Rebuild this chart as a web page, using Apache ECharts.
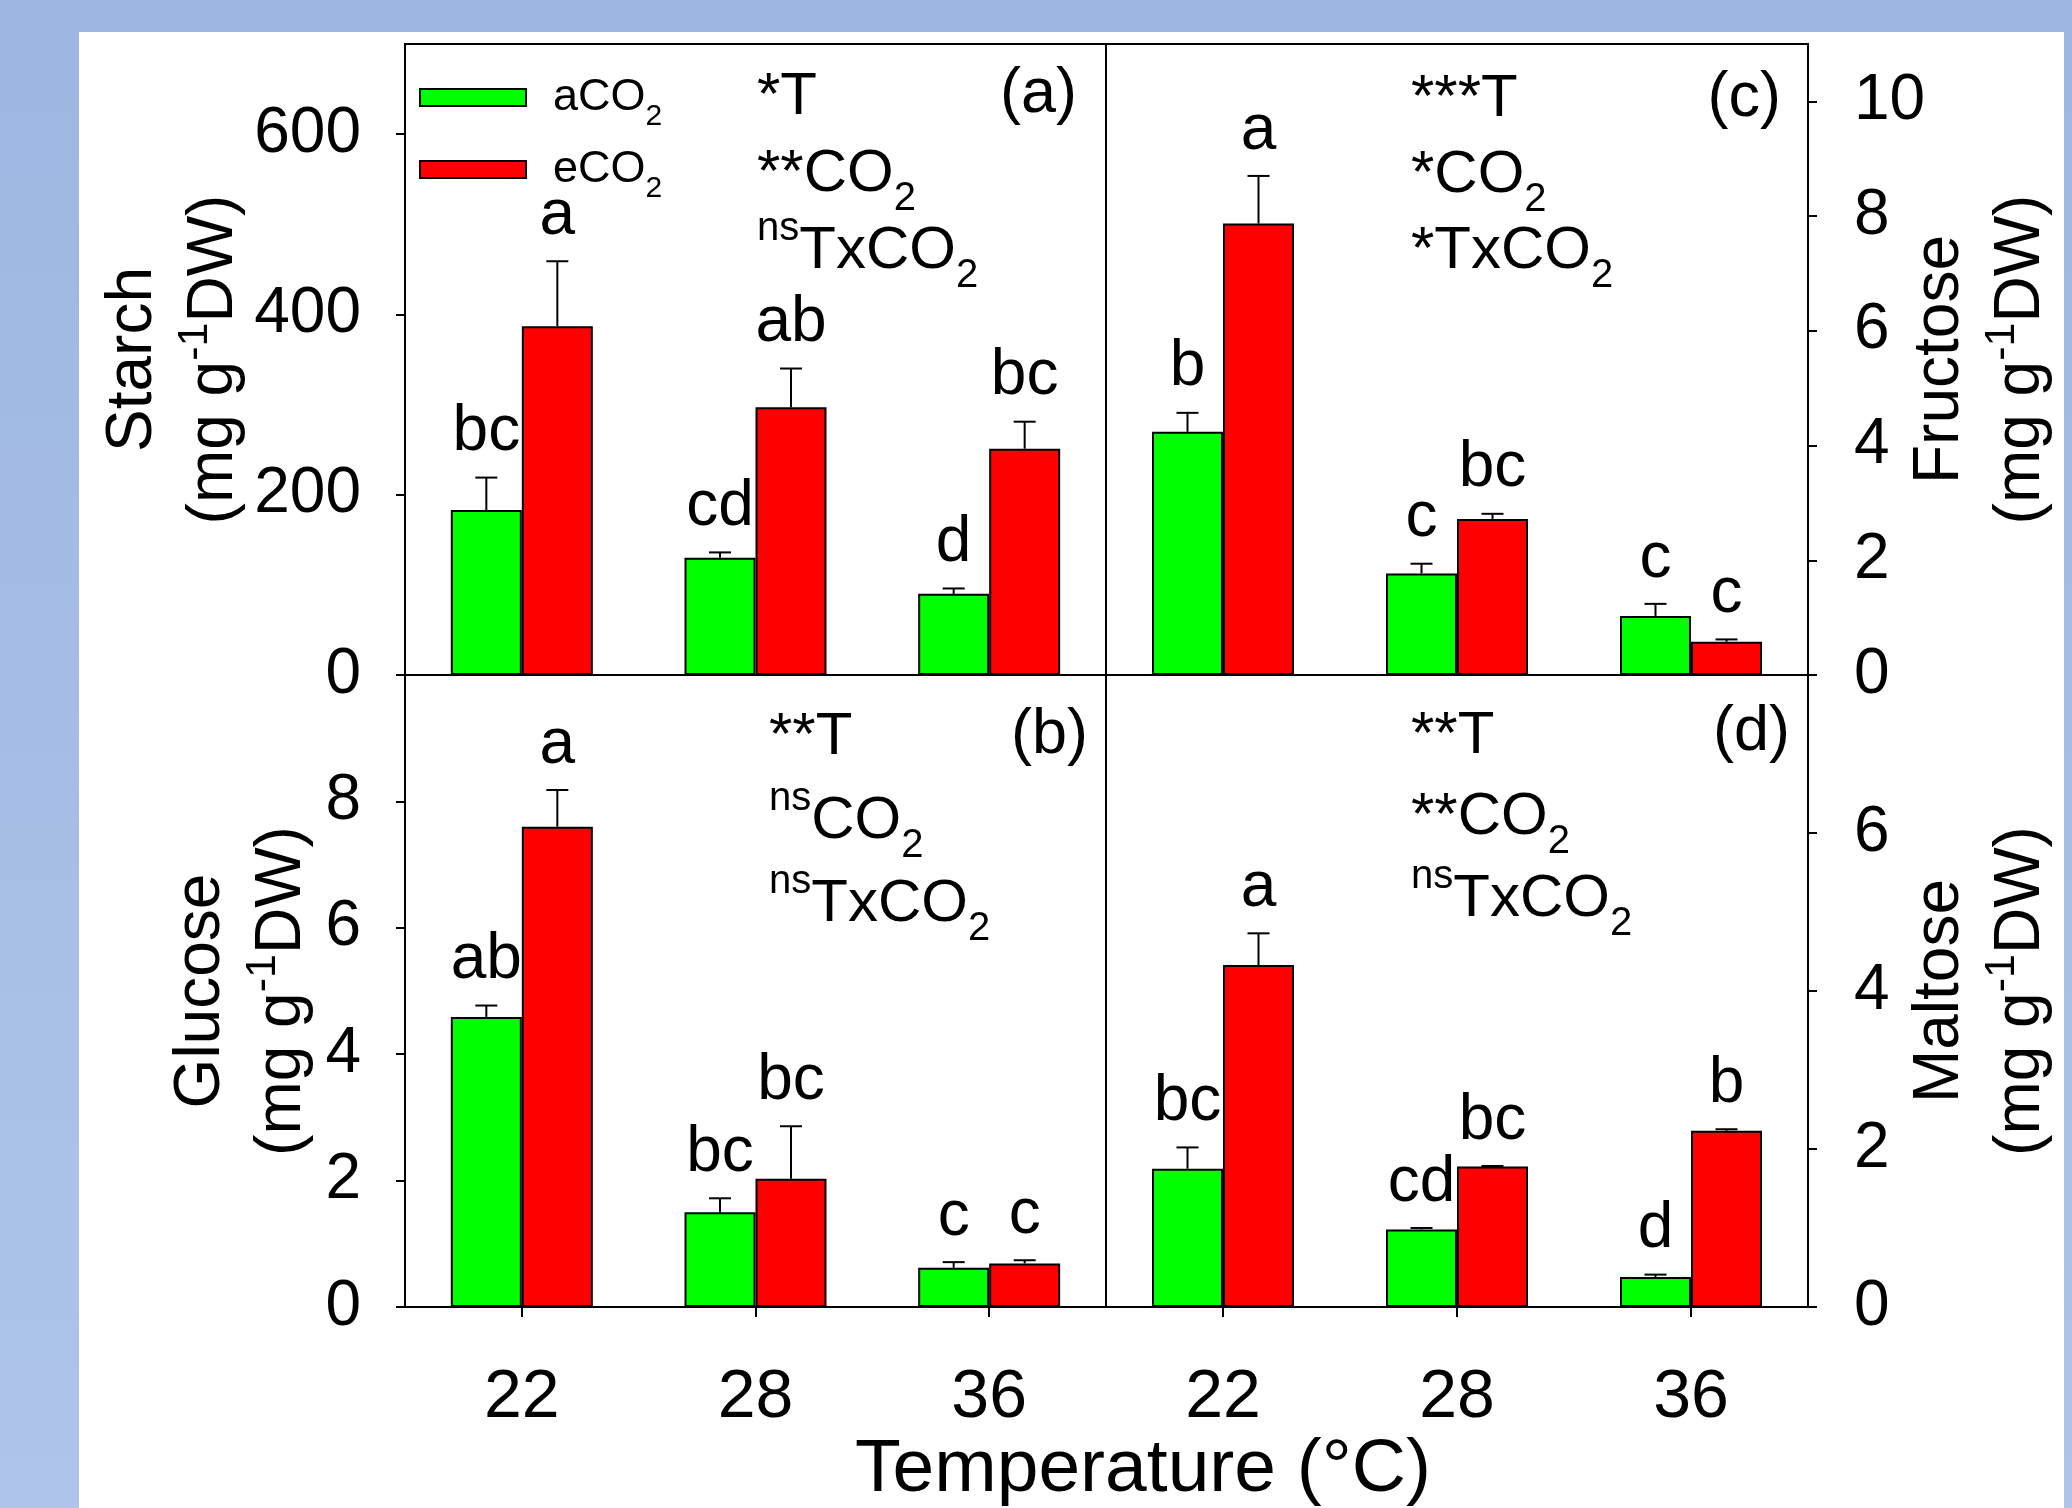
<!DOCTYPE html>
<html>
<head>
<meta charset="utf-8">
<script src="https://cdn.jsdelivr.net/npm/echarts@6/dist/echarts.min.js"></script>
<style>
  html, body { margin: 0; padding: 0; }
  body { width: 2072px; height: 1508px; background: linear-gradient(#9db7e2, #aec4ea); position: relative; overflow: hidden; }
  #sheet { position: absolute; left: 79px; top: 32px; width: 1985px; height: 1476px; background: #fff; }
  #chart { position: absolute; left: 0; top: 0; width: 2072px; height: 1508px; }
</style>
</head>
<body>
<div id="sheet"></div>
<div id="chart"></div>
<script>
const FONT = 'Liberation Sans, Arial, Helvetica, sans-serif';

// data
const categories = ['22', '28', '36'];

const starchA = [183, 130, 90];
const starchAErr = [36, 6, 6];
const starchE = [387, 297, 251];
const starchEErr = [72, 43, 30];
const starchALetters = ['bc', 'cd', 'd'];
const starchELetters = ['a', 'ab', 'bc'];

const glucoseA = [4.59, 1.50, 0.62];
const glucoseAErr = [0.18, 0.22, 0.09];
const glucoseE = [7.60, 2.03, 0.69];
const glucoseEErr = [0.58, 0.83, 0.05];
const glucoseALetters = ['ab', 'bc', 'c'];
const glucoseELetters = ['a', 'bc', 'c'];

const fructoseA = [4.24, 1.77, 1.03];
const fructoseAErr = [0.33, 0.17, 0.21];
const fructoseE = [7.87, 2.72, 0.58];
const fructoseEErr = [0.83, 0.09, 0.04];
const fructoseALetters = ['b', 'c', 'c'];
const fructoseELetters = ['a', 'bc', 'c'];

const maltoseA = [1.75, 0.98, 0.38];
const maltoseAErr = [0.27, 0.02, 0.03];
const maltoseE = [4.33, 1.78, 2.23];
const maltoseEErr = [0.40, 0.005, 0.02];
const maltoseALetters = ['bc', 'cd', 'd'];
const maltoseELetters = ['a', 'bc', 'b'];

const starchTicks = [0, 200, 400, 600];
const glucoseTicks = [0, 2, 4, 6, 8];
const fructoseTicks = [0, 2, 4, 6, 8, 10];
const maltoseTicks = [0, 2, 4, 6];

const GREEN = '#00ff00', RED = '#ff0000';
const BAR_W = 71, CAP = 22;

// rich text styles for sub/superscripts
function richSet(F, pad) {
  const s = Math.round(F * 0.67);
  return {
    n: { fontSize: F, lineHeight: F, verticalAlign: 'top', padding: [pad, 0, 0, 0], fontFamily: FONT, color: '#000', fill: '#000' },
    sub: { fontSize: s, lineHeight: s, verticalAlign: 'top', padding: [pad + Math.round(F * 0.59), 0, 0, 0], fontFamily: FONT, color: '#000', fill: '#000' },
    sup: { fontSize: s, lineHeight: s, verticalAlign: 'top', fontFamily: FONT, color: '#000', fill: '#000' }
  };
}
const titleRich = {
  n: { fontSize: 64, lineHeight: 81, fontFamily: FONT, color: '#000' },
  sup: { fontSize: 43, lineHeight: 43, verticalAlign: 'top', fontFamily: FONT, color: '#000' }
};
const unitLine = '{n|(mg g}{sup|-1}{n|DW)}';

const panels = [
  { grid: { left: 405, top: 44, width: 701, height: 631 }, max: 700, ticks: starchTicks, side: 'left', gap: 150,
    title: '{n|Starch}\n' + unitLine, bottom: false,
    a: starchA, aErr: starchAErr, e: starchE, eErr: starchEErr, aL: starchALetters, eL: starchELetters },
  { grid: { left: 405, top: 675, width: 701, height: 632 }, max: 10, ticks: glucoseTicks, side: 'left', gap: 82,
    title: '{n|Glucose}\n' + unitLine, bottom: true,
    a: glucoseA, aErr: glucoseAErr, e: glucoseE, eErr: glucoseEErr, aL: glucoseALetters, eL: glucoseELetters },
  { grid: { left: 1106, top: 44, width: 702, height: 631 }, max: 11, ticks: fructoseTicks, side: 'right', gap: 92,
    title: '{n|Fructose}\n' + unitLine, bottom: false,
    a: fructoseA, aErr: fructoseAErr, e: fructoseE, eErr: fructoseEErr, aL: fructoseALetters, eL: fructoseELetters },
  { grid: { left: 1106, top: 675, width: 702, height: 632 }, max: 8, ticks: maltoseTicks, side: 'right', gap: 92,
    title: '{n|Maltose}\n' + unitLine, bottom: true,
    a: maltoseA, aErr: maltoseAErr, e: maltoseE, eErr: maltoseEErr, aL: maltoseALetters, eL: maltoseELetters }
];

const black2 = { color: '#000', width: 2 };

function errSeries(k, vals, errs, letters, dir) {
  return {
    type: 'custom',
    xAxisIndex: k, yAxisIndex: k,
    z: 5,
    silent: true,
    encode: { x: 0, y: 1 },
    data: vals.map((v, i) => [i, v, errs[i]]),
    renderItem: function (params, api) {
      const i = api.value(0), v = api.value(1), e = api.value(2);
      const base = api.coord([i, v]);
      const top = api.coord([i, v + e]);
      const x = base[0] + dir * BAR_W / 2;
      return {
        type: 'group',
        children: [
          { type: 'line', shape: { x1: x, y1: base[1], x2: x, y2: top[1] }, style: { stroke: '#000', lineWidth: 2 } },
          { type: 'line', shape: { x1: x - CAP / 2, y1: top[1], x2: x + CAP / 2, y2: top[1] }, style: { stroke: '#000', lineWidth: 2 } },
          { type: 'text', x: x, y: top[1] - 13,
            style: { text: letters[params.dataIndex], fontSize: 64, fontFamily: FONT, fill: '#000', align: 'center', verticalAlign: 'bottom' } }
        ]
      };
    }
  };
}

const grids = [], xAxes = [], yAxes = [], series = [];
panels.forEach((p, k) => {
  grids.push(Object.assign({ show: true, borderColor: '#000', borderWidth: 2, containLabel: false, outerBoundsMode: 'none' }, p.grid));
  xAxes.push({
    gridIndex: k, type: 'category', data: categories,
    axisLine: { show: true, lineStyle: black2 },
    axisTick: { show: p.bottom, alignWithLabel: true, length: 10, lineStyle: black2 },
    axisLabel: { show: p.bottom, fontSize: 68, color: '#000', fontFamily: FONT, margin: 57 },
    splitLine: { show: false }
  });
  yAxes.push({
    gridIndex: k, type: 'value', min: 0, max: p.max, position: p.side,
    axisLine: { show: true, lineStyle: black2 },
    axisTick: { show: true, length: 9, lineStyle: black2, customValues: p.ticks },
    axisLabel: { fontSize: 64, color: '#000', fontFamily: FONT, margin: p.side === 'left' ? 44 : 46, customValues: p.ticks },
    splitLine: { show: false },
    name: p.title, nameLocation: 'middle', nameRotate: 90, nameGap: p.gap, nameMoveOverlap: false,
    nameTextStyle: { fontSize: 64, lineHeight: 81, fontFamily: FONT, color: '#000', rich: titleRich }
  });
  series.push({
    name: 'aCO2', type: 'bar', xAxisIndex: k, yAxisIndex: k, data: p.a,
    barWidth: BAR_W, barGap: '0%', z: 2, silent: true,
    itemStyle: { color: GREEN, borderColor: '#000', borderWidth: 2 }
  });
  series.push({
    name: 'eCO2', type: 'bar', xAxisIndex: k, yAxisIndex: k, data: p.e,
    barWidth: BAR_W, barGap: '0%', z: 2, silent: true,
    itemStyle: { color: RED, borderColor: '#000', borderWidth: 2 }
  });
  series.push(errSeries(k, p.a, p.aErr, p.aL, -1));
  series.push(errSeries(k, p.e, p.eErr, p.eL, 1));
});

// statistics notes and panel letters
const noteRich = richSet(60, 12);
function note(x, yc, text) {
  return { type: 'text', x: x, y: yc - 42, z: 10,
    style: { text: text, rich: noteRich, fontSize: 60, fontFamily: FONT, fill: '#000', verticalAlign: 'top' } };
}
function tag(xr, yc, text) {
  return { type: 'text', x: xr, y: yc, z: 10,
    style: { text: text, fontSize: 63, fontFamily: FONT, fill: '#000', align: 'right', verticalAlign: 'middle' } };
}

const graphics = [
  note(757, 97, '{n|*T}'),
  note(757, 174, '{n|**CO}{sub|2}'),
  note(757, 251, '{sup|ns}{n|TxCO}{sub|2}'),
  note(1411, 99, '{n|***T}'),
  note(1411, 175, '{n|*CO}{sub|2}'),
  note(1411, 251, '{n|*TxCO}{sub|2}'),
  note(769, 737, '{n|**T}'),
  note(769, 821, '{sup|ns}{n|CO}{sub|2}'),
  note(769, 904, '{sup|ns}{n|TxCO}{sub|2}'),
  note(1411, 736, '{n|**T}'),
  note(1411, 817, '{n|**CO}{sub|2}'),
  note(1411, 899, '{sup|ns}{n|TxCO}{sub|2}'),
  tag(1077, 95, '(a)'),
  tag(1781, 99, '(c)'),
  tag(1088, 736, '(b)'),
  tag(1790, 733, '(d)')
];

const chart = echarts.init(document.getElementById('chart'), null, { renderer: 'canvas' });
chart.setOption({
  animation: false,
  backgroundColor: 'transparent',
  textStyle: { fontFamily: FONT },
  title: {
    text: 'Temperature (°C)', left: 855, top: 1433, padding: 0,
    textStyle: { fontSize: 75, fontWeight: 'normal', fontFamily: FONT, color: '#000' }
  },
  legend: {
    data: ['aCO2', 'eCO2'], orient: 'vertical', left: 419, top: 75, padding: 0,
    itemWidth: 106, itemHeight: 17, itemGap: 15, icon: 'rect', selectedMode: false,
    formatter: name => '{n|' + name.slice(0, 3) + '}{sub|2}',
    textStyle: { padding: [0, 0, 0, 22], rich: richSet(45, 0) }
  },
  grid: grids,
  xAxis: xAxes,
  yAxis: yAxes,
  series: series,
  graphic: graphics
});
</script>
</body>
</html>
